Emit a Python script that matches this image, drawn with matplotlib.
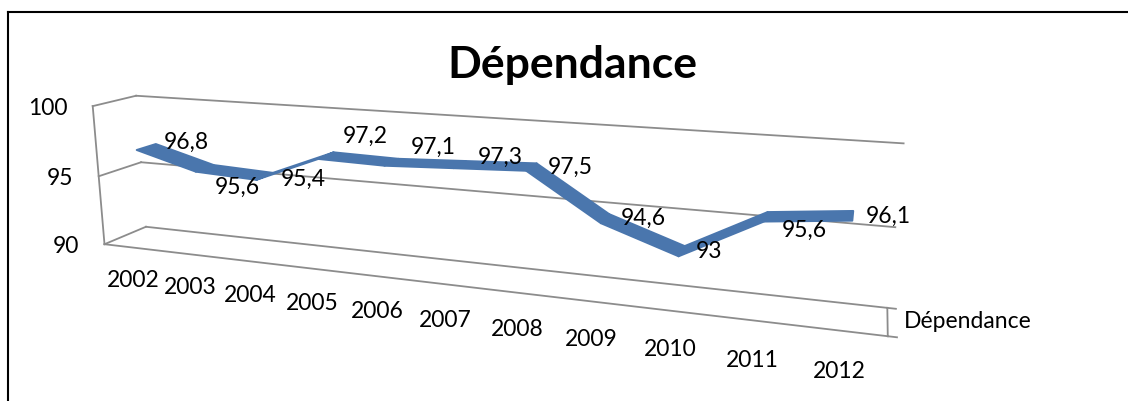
import numpy as np
import matplotlib
matplotlib.use('Agg')
import matplotlib.pyplot as plt
from matplotlib.lines import Line2D
from matplotlib.text import Text
from matplotlib.transforms import offset_copy
from mpl_toolkits.mplot3d import proj3d
from mpl_toolkits.mplot3d.art3d import Poly3DCollection

plt.rcParams['font.family'] = ['Lato', 'DejaVu Sans']

# data
years = ['2002', '2003', '2004', '2005', '2006', '2007',
         '2008', '2009', '2010', '2011', '2012']
values = [96.8, 95.6, 95.4, 97.2, 97.1, 97.3, 97.5, 94.6, 93.0, 95.6, 96.1]
value_labels = ['96,8', '95,6', '95,4', '97,2', '97,1', '97,3',
                '97,5', '94,6', '93', '95,6', '96,1']
series_name = 'Dépendance'
z_ticks = [90, 95, 100]

# where each data label sits relative to its point (pixels, right / down)
label_nudge = [(40, -5), (32, 19), (39, 3), (39, -19), (42, -15), (40, -7),
               (39, 0), (38, 0), (27, 0), (39, 14), (36, 1)]

W, H = 1128, 401
fig = plt.figure(figsize=(W / 100, H / 100), dpi=100)
ax = fig.add_axes([0.04004, -0.53150, 0.71606, 2.01426], projection='3d')
ax.set_xlim(-0.5, 10.5)
ax.set_ylim(0, 1)
ax.set_zlim(90, 100)
ax.set_xticks([])
ax.set_yticks([])
ax.set_zticks([])
ax.set_axis_off()
ax.patch.set_alpha(0)
for t in ax.findobj(Text):
    t.set_visible(False)

# perspective view of the 3-D box
ax.view_init(14.2962, -69.6596, 0.1302)
ax.set_proj_type('persp', focal_length=0.2525)
ax.set_box_aspect((1, 0.0933, 0.1903))
ax.computed_zorder = False
M = ax.get_proj()


def label(x, y, z, s, dx=0, dy=0, **kw):
    # project a 3-D anchor and put a flat text there, shifted by dx/dy pixels
    u, v, _ = proj3d.proj_transform(x, y, z, M)
    tr = offset_copy(ax.transData, fig=fig, x=dx, y=dy, units='dots')
    return ax.text2D(u, v, s, transform=tr, fontsize=16.5, zorder=3, **kw)


# walls: value gridlines on back and side wall, floor edges
grid_kw = dict(color='#8c8c8c', lw=1.3, clip_on=False, zorder=1)
for z in z_ticks:
    ax.plot([-0.5, 10.5], [1, 1], [z, z], **grid_kw)
    ax.plot([-0.5, -0.5], [0, 1], [z, z], **grid_kw)
ax.plot([-0.5, -0.5], [0, 0], [90, 100], **grid_kw)
ax.plot([-0.5, 10.5], [0, 0], [90, 90], **grid_kw)
ax.plot([10.5, 10.5], [0, 1], [90, 90], **grid_kw)
for yy in (0, 1):
    ax.plot([10.5, 10.6], [yy, yy], [90, 90], **grid_kw)

# 3-D ribbon for the series
xs = np.arange(len(values))
y0, y1 = 0.27, 0.73
quads = [[(xs[i], y0, values[i]), (xs[i + 1], y0, values[i + 1]),
          (xs[i + 1], y1, values[i + 1]), (xs[i], y1, values[i])]
         for i in range(len(values) - 1)]
ribbon = Poly3DCollection(quads, facecolor='#4a76ad', edgecolor='#4a76ad', linewidth=1.4)
ribbon.set_clip_on(False)
ribbon.set_zorder(2)
ax.add_collection3d(ribbon)

for z in z_ticks:
    label(-0.5, 0, z, str(z), dx=-25, dy=-2, ha='right', va='center')
for i, yr in enumerate(years):
    label(i, -0.05, 87.65, yr, ha='center', va='center')
for i, lab in enumerate(value_labels):
    dx, dy = label_nudge[i]
    label(i, 0.5, values[i], lab, dx=dx, dy=-dy, ha='center', va='center')
label(10.5, 0.5, 90, series_name, dx=16, ha='left', va='center')

fig.text(572 / W, 1 - 65 / H, series_name, ha='center', va='center',
         fontsize=32, fontweight='bold')

# chart frame
fig.add_artist(Line2D([8 / W, 8 / W], [0, 1 - 12 / H], color='black', lw=1.5))
fig.add_artist(Line2D([8 / W, 1], [1 - 12 / H, 1 - 12 / H], color='black', lw=1.5))

fig.savefig('out.png', dpi=100, facecolor='white')
